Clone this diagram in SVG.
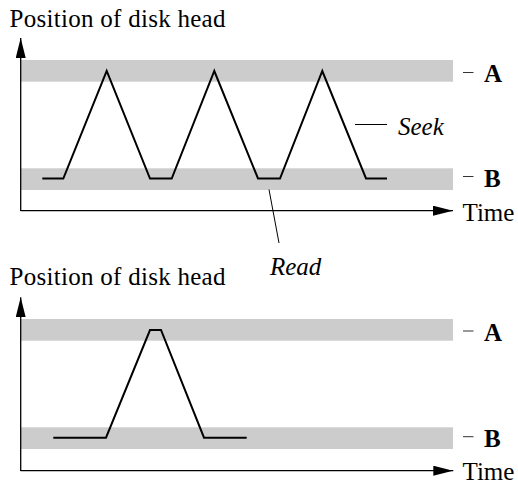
<svg xmlns="http://www.w3.org/2000/svg" width="518" height="484" viewBox="0 0 518 484">
<style>
.band{fill:#cccccc}
.axis{stroke:#000;stroke-width:1.3;fill:none}
.curve{stroke:#000;stroke-width:2;fill:none;stroke-linejoin:miter}
.thin{stroke:#000;stroke-width:1;fill:none}
.tick{stroke:#333;stroke-width:1}
.t{font-family:'Liberation Serif','Times New Roman',serif;font-size:25px;fill:#000}
.i{font-style:italic}
.b{font-weight:bold}
</style>
<defs>
<marker id="ah" markerUnits="userSpaceOnUse" markerWidth="20" markerHeight="10" refX="20" refY="5" orient="auto" viewBox="0 0 20 10">
<path d="M0,0 L20,5 L0,10 Z" fill="#000"/>
</marker>
</defs>
<g id="top-chart">
<text class="t" x="9.5" y="27" textLength="216">Position of disk head</text>
<rect class="band" x="21" y="60" width="432" height="21.7"/>
<rect class="band" x="21" y="168.3" width="432" height="21.7"/>
<g id="top-axes">
<line class="axis" x1="20.7" y1="211" x2="20.7" y2="38" marker-end="url(#ah)"/>
<line class="axis" x1="20.7" y1="210.7" x2="453" y2="210.7" marker-end="url(#ah)"/>
</g>
<polyline class="curve" points="42.3,178.5 63.3,178.5 106.7,71 150,178.5 171.7,178.5 214.3,71 258,178.5 280,178.5 322.3,71 366,178.5 387,178.5"/>
<g id="top-labels">
<line class="tick" x1="463" y1="72.5" x2="473.5" y2="72.5"/>
<text class="t b" x="484" y="82">A</text>
<line class="tick" x1="463" y1="176.5" x2="473.5" y2="176.5"/>
<text class="t b" x="484" y="187">B</text>
<text class="t" x="462.5" y="221">Time</text>
</g>
<g id="seek-label">
<line class="thin" x1="355" y1="124.5" x2="387" y2="124.5"/>
<text class="t i" x="398" y="135">Seek</text>
</g>
<g id="read-label">
<line class="thin" x1="269" y1="189.5" x2="279" y2="243"/>
<text class="t i" x="270" y="275">Read</text>
</g>
</g>
<g id="bottom-chart">
<text class="t" x="9.5" y="285" textLength="216">Position of disk head</text>
<rect class="band" x="21" y="319" width="432" height="21.7"/>
<rect class="band" x="21" y="427.3" width="432" height="21.7"/>
<g id="bottom-axes">
<line class="axis" x1="20.7" y1="471" x2="20.7" y2="297.3" marker-end="url(#ah)"/>
<line class="axis" x1="20.7" y1="470.7" x2="453.3" y2="470.7" marker-end="url(#ah)"/>
</g>
<polyline class="curve" points="53.3,437.7 106,437.7 150,330 161,330 204,437.7 246.7,437.7"/>
<g id="bottom-labels">
<line class="tick" x1="463" y1="331" x2="473.5" y2="331"/>
<text class="t b" x="484" y="341">A</text>
<line class="tick" x1="463" y1="436.7" x2="473.5" y2="436.7"/>
<text class="t b" x="484" y="447">B</text>
<text class="t" x="462.5" y="480">Time</text>
</g>
</g>
</svg>
